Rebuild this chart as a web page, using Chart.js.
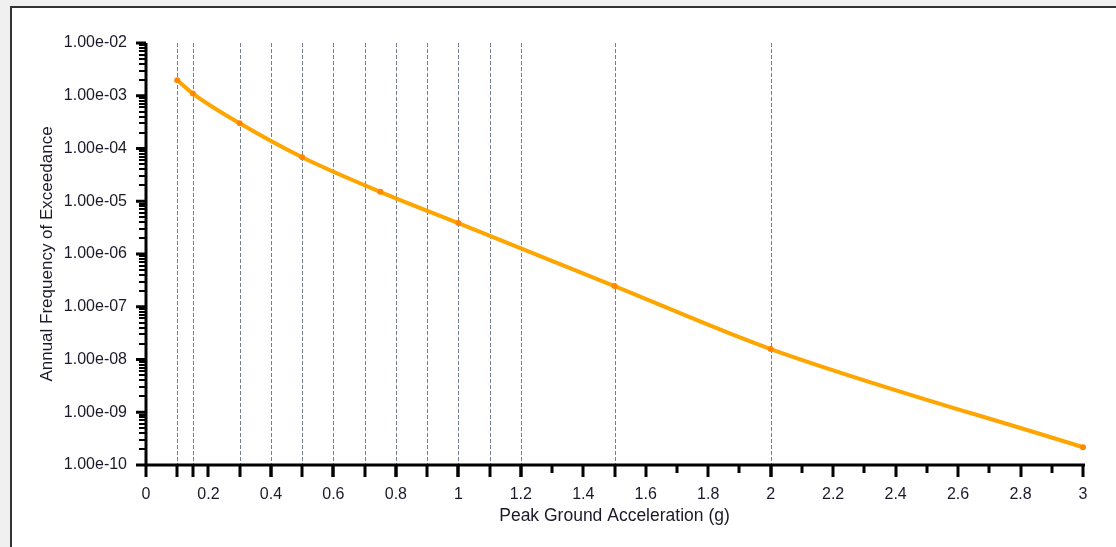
<!DOCTYPE html>
<html>
<head>
<meta charset="utf-8">
<script src="https://cdn.jsdelivr.net/npm/chart.js@4.4.1/dist/chart.umd.min.js"></script>
<style>
  body { margin: 0; background: #f0f0f0; width: 1116px; height: 547px; overflow: hidden; position: relative; }
  #panel { position: absolute; left: 10px; top: 6px; right: 0; bottom: 0; background: #fff; border-left: 2px solid #333; border-top: 2px solid #333; }
  #grafico { position: absolute; left: 0; top: 0; }
</style>
</head>
<body>
<div id="panel"></div>
<canvas id="grafico" width="1116" height="547"></canvas>
<script>
const pga = [0.1, 0.15, 0.3, 0.5, 0.75, 1.0, 1.5, 2.0, 3.0];
const frecuencia = [1.97e-3, 1.10e-3, 3.01e-4, 6.84e-5, 1.51e-5, 3.85e-6, 2.47e-7, 1.58e-8, 2.17e-10];

// lineas verticales punteadas
const lineasGrid = [0.1, 0.15, 0.3, 0.4, 0.5, 0.6, 0.7, 0.8, 0.9, 1, 1.1, 1.2, 1.5, 2];
// etiquetas de los ejes
const ticksX = [0, 0.2, 0.4, 0.6, 0.8, 1, 1.2, 1.4, 1.6, 1.8, 2, 2.2, 2.4, 2.6, 2.8, 3];
const ticksXMenores = [0.1, 0.3, 0.5, 0.7, 0.9, 1.1, 1.3, 1.5, 1.7, 1.9, 2.1, 2.3, 2.5, 2.7, 2.9];
const decadas = [1e-10, 1e-9, 1e-8, 1e-7, 1e-6, 1e-5, 1e-4, 1e-3, 1e-2];

const fuente = "'Liberation Sans', Arial, sans-serif";

const formatoExp = (v) => {
    const exp = Math.round(Math.log10(v));
    const mant = v / Math.pow(10, exp);
    const signo = exp < 0 ? '-' : '+';
    return mant.toFixed(2) + 'e' + signo + String(Math.abs(exp)).padStart(2, '0');
};

// dibuja grilla punteada, lineas de ejes y marcas
const ejesPlugin = {
    id: 'ejes',
    beforeDatasetsDraw(chart) {
        const { ctx, chartArea, scales: { x } } = chart;
        ctx.save();
        ctx.strokeStyle = '#72808f';
        ctx.lineWidth = 1;
        ctx.setLineDash([4, 2]);
        lineasGrid.forEach(v => {
            const px = Math.round(x.getPixelForValue(v)) + 0.5;
            ctx.beginPath();
            ctx.moveTo(px, chartArea.top);
            ctx.lineTo(px, chartArea.bottom);
            ctx.stroke();
        });
        ctx.restore();
    },
    afterDatasetsDraw(chart) {
        const { ctx, chartArea, scales: { x, y } } = chart;
        ctx.save();
        ctx.strokeStyle = '#000';
        ctx.lineCap = 'butt';

        // marcas eje y
        decadas.forEach((d, i) => {
            const py = y.getPixelForValue(d);
            ctx.lineWidth = 3;
            ctx.beginPath();
            ctx.moveTo(chartArea.left - 10, py);
            ctx.lineTo(chartArea.left, py);
            ctx.stroke();
            if (i < decadas.length - 1) {
                ctx.lineWidth = 2;
                for (let k = 2; k <= 9; k++) {
                    const pm = Math.round(y.getPixelForValue(k * d));
                    ctx.beginPath();
                    ctx.moveTo(chartArea.left - 7, pm);
                    ctx.lineTo(chartArea.left, pm);
                    ctx.stroke();
                }
            }
        });

        // marcas eje x
        ctx.lineWidth = 3;
        const largas = ticksX.concat(lineasGrid);
        largas.forEach(v => {
            const px = Math.round(x.getPixelForValue(v));
            ctx.beginPath();
            ctx.moveTo(px, chartArea.bottom);
            ctx.lineTo(px, chartArea.bottom + 12);
            ctx.stroke();
        });
        ticksXMenores.forEach(v => {
            if (largas.some(l => Math.abs(l - v) < 1e-6)) return;
            const px = Math.round(x.getPixelForValue(v));
            ctx.beginPath();
            ctx.moveTo(px, chartArea.bottom);
            ctx.lineTo(px, chartArea.bottom + 8);
            ctx.stroke();
        });

        // lineas de ejes
        ctx.lineWidth = 3;
        ctx.beginPath();
        ctx.moveTo(chartArea.left, chartArea.top);
        ctx.lineTo(chartArea.left, chartArea.bottom);
        ctx.lineTo(chartArea.right + 2, chartArea.bottom);
        ctx.stroke();
        ctx.restore();
    }
};

const ctx = document.getElementById('grafico').getContext('2d');
new Chart(ctx, {
    type: 'line',
    data: {
        datasets: [{
            label: 'Hazard',
            data: pga.map((v, i) => ({ x: v, y: frecuencia[i] })),
            borderColor: '#FFA500',
            backgroundColor: '#FF8800',
            borderWidth: 4,
            pointRadius: 3,
            pointBorderWidth: 0,
            pointBackgroundColor: '#FF8800',
            cubicInterpolationMode: 'monotone',
            fill: false,
            clip: false
        }]
    },
    options: {
        responsive: false,
        animation: false,
        devicePixelRatio: 1,
        layout: { padding: { left: 37, top: 43, right: 33, bottom: 0 } },
        plugins: {
            legend: { display: false },
            tooltip: { enabled: false }
        },
        scales: {
            x: {
                type: 'linear',
                min: 0,
                max: 3,
                afterBuildTicks: (scale) => { scale.ticks = ticksX.map(v => ({ value: v })); },
                afterFit: (scale) => { scale.height = 82; },
                grid: { display: false, drawTicks: false },
                border: { display: false },
                ticks: {
                    padding: 20,
                    color: '#1a1a2a',
                    font: { family: fuente, size: 16 },
                    maxRotation: 0,
                    autoSkip: false,
                    callback: (v) => String(v)
                },
                title: {
                    display: true,
                    text: 'Peak Ground Acceleration (g)',
                    color: '#1a1a2a',
                    font: { family: fuente, size: 17.5 },
                    padding: { top: 0, bottom: 20 }
                }
            },
            y: {
                type: 'logarithmic',
                min: 1e-10,
                max: 1e-2,
                afterBuildTicks: (scale) => { scale.ticks = decadas.map(v => ({ value: v })); },
                afterFit: (scale) => { scale.width = 109; },
                grid: { display: false, drawTicks: false },
                border: { display: false },
                ticks: {
                    padding: 19,
                    color: '#1a1a2a',
                    font: { family: fuente, size: 16 },
                    autoSkip: false,
                    callback: (v) => formatoExp(v)
                },
                title: {
                    display: true,
                    text: 'Annual Frequency of Exceedance',
                    color: '#1a1a2a',
                    font: { family: fuente, size: 17 },
                    padding: 0
                }
            }
        }
    },
    plugins: [ejesPlugin]
});
</script>
</body>
</html>
